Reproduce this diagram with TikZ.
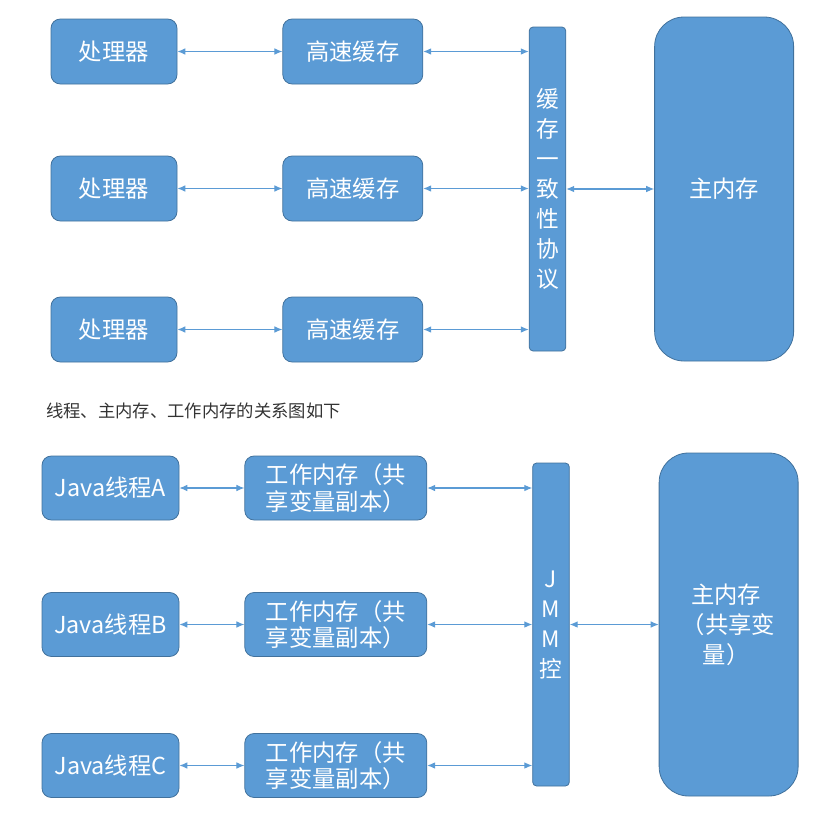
\documentclass[tikz,border=0pt]{standalone}
\usepackage{fontspec}
\setmainfont{Noto Sans CJK SC}
\usetikzlibrary{arrows.meta, positioning}
\definecolor{officeblue}{HTML}{5B9BD5}
\definecolor{edgeblue}{HTML}{41719C}
\definecolor{linkblue}{HTML}{5B9BD5}
\definecolor{captiongray}{HTML}{333333}

\begin{document}
\begin{tikzpicture}[
        x=0.75pt, y=-0.75pt,
        box/.style={
            rectangle,
            rounded corners=7pt,
            draw=edgeblue,
            line width=0.6pt,
            fill=officeblue,
            text=white,
            font=\fontsize{17.5}{20}\selectfont,
            align=center,
            inner sep=0pt
        },
        bar/.style={
            box,
            rounded corners=3pt,
            minimum width=27.5pt,
            font=\fontsize{17}{22.5}\selectfont
        },
        memory/.style={
            box,
            rounded corners=22pt,
            minimum width=104.25pt
        },
        link/.style={
            linkblue,
            line width=0.8pt,
            {Latex[length=6pt,width=5pt]}-{Latex[length=6pt,width=5pt]}
        }
    ]

    % Fixer le cadre
    \useasboundingbox (0,0) rectangle (824,826);

    % Processeurs et caches
    \foreach \i/\y in {1/51.5, 2/188.5, 3/329.5} {
        \node[box, minimum width=94.5pt, minimum height=48.75pt] (p\i) at (114,\y) {处理器};
        \node[box, minimum width=105pt, minimum height=48.75pt, right=78.75pt of p\i] (c\i) {高速缓存};
    }

    % Protocole de coherence
    \node[bar, minimum height=243pt] (mesi) at (547.5,189) {缓\\存\\一\\致\\性\\协\\议};

    % Memoire principale
    \node[memory, minimum height=258pt, right=66pt of mesi] (mem) {主内存};

    \foreach \i in {1,2,3} {
        \draw[link] (p\i) -- (c\i);
        \draw[link] (c\i.east) -- (c\i.east -| mesi.west);
    }
    \draw[link] (mesi) -- (mem);

    % Legende
    \node[anchor=west, inner sep=0pt, text=captiongray, font=\fontsize{13}{15}\selectfont] (caption) at (46,411) {线程、主内存、工作内存的关系图如下};

    % Threads Java et memoires de travail
    \foreach \i/\y/\n in {1/488/A, 2/624.5/B, 3/765.5/C} {
        \node[box, minimum width=102.75pt, minimum height=48pt] (t\i) at (110.5,\y) {Java线程\n};
        \node[box, minimum width=136.5pt, minimum height=48pt, right=48.75pt of t\i] (w\i) {工作内存（共\\享变量副本）};
    }

    % Controle JMM
    \node[bar, minimum height=242.25pt] (jmm) at (551,624.5) {J\\M\\M\\控};

    % Memoire principale partagee
    \node[memory, minimum height=257.25pt, align=left, font=\fontsize{17.5}{22.5}\selectfont, right=66.75pt of jmm] (mem2) {\hspace{0.4em}主内存\\（共享变\\\hspace{0.9em}量）};

    \foreach \i in {1,2,3} {
        \draw[link] (t\i) -- (w\i);
        \draw[link] (w\i.east) -- (w\i.east -| jmm.west);
    }
    \draw[link] (jmm) -- (mem2);

\end{tikzpicture}
\end{document}
